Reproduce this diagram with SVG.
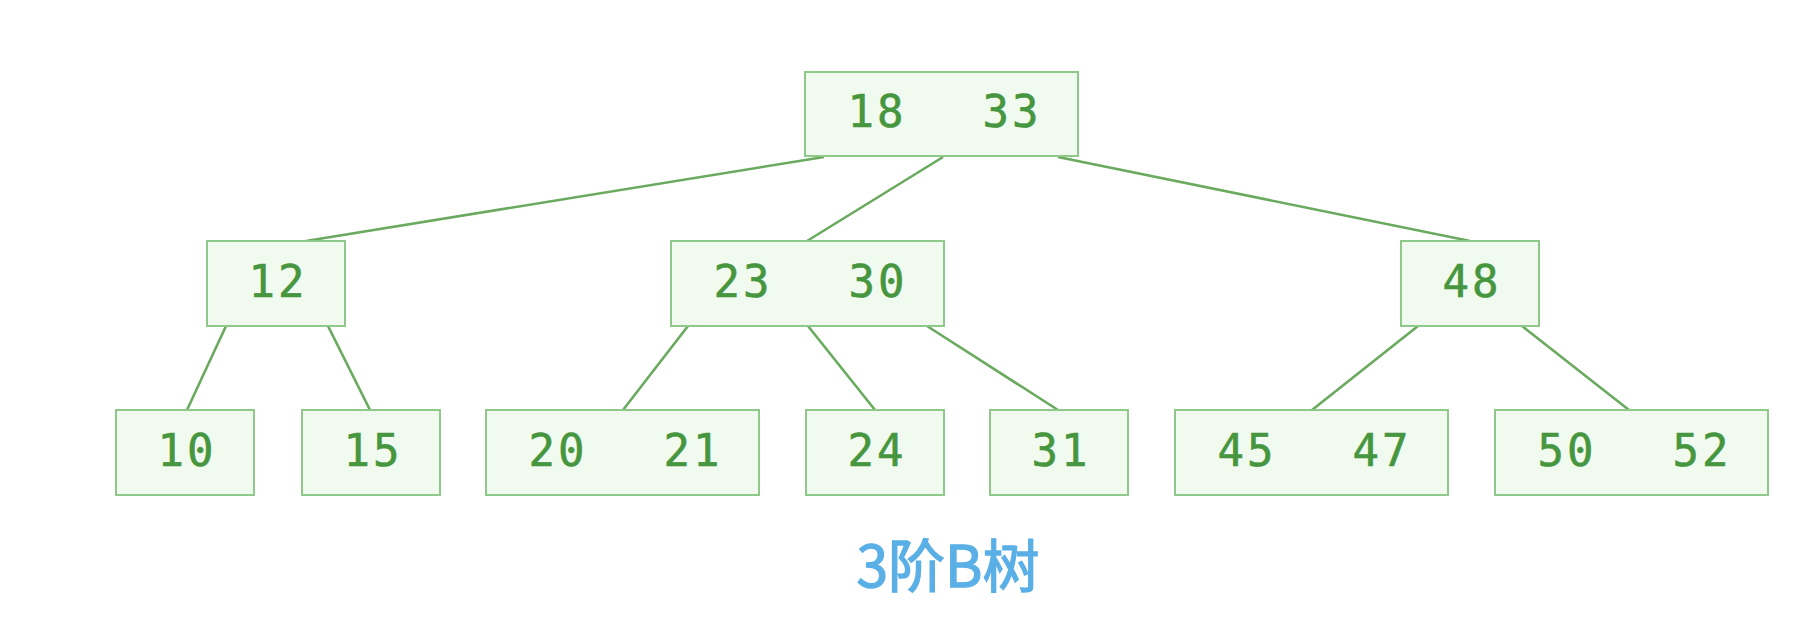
<svg xmlns="http://www.w3.org/2000/svg" width="1808" height="624" viewBox="0 0 1808 624">
<style>
.box{fill:#f1faef;stroke:#8ec98a;stroke-width:2}
.k{font-family:"DejaVu Sans Mono","Liberation Mono",monospace;font-size:44px;fill:#469640;stroke:#469640;stroke-width:0.6;text-anchor:middle;letter-spacing:3px}
.e{stroke:#6aaa5e;stroke-width:2.6;fill:none}
.t{font-family:"Noto Sans CJK SC","Noto Sans",sans-serif;font-size:57px;font-weight:normal;fill:#5ab0e6;stroke:#5ab0e6;stroke-width:1.3;text-anchor:middle}
</style>
<rect width="1808" height="624" fill="#ffffff"/>
<g id="connectors">
<line class="e" x1="824" y1="157" x2="306" y2="241"/>
<line class="e" x1="943" y1="157" x2="807" y2="241"/>
<line class="e" x1="1058" y1="157" x2="1470" y2="241"/>
<line class="e" x1="226" y1="326" x2="187" y2="410"/>
<line class="e" x1="328" y1="326" x2="370" y2="410"/>
<line class="e" x1="688" y1="326" x2="623" y2="410"/>
<line class="e" x1="808" y1="326" x2="875" y2="410"/>
<line class="e" x1="927" y1="326" x2="1058" y2="410"/>
<line class="e" x1="1418" y1="326" x2="1312" y2="410"/>
<line class="e" x1="1522" y1="326" x2="1629" y2="410"/>
</g>
<g id="root"><rect class="box" x="805" y="72" width="273" height="84"/><text class="k" x="877" y="127">18</text><text class="k" x="1012" y="127">33</text></g>
<g id="n12"><rect class="box" x="207" y="241" width="138" height="85"/><text class="k" x="278" y="297">12</text></g>
<g id="n23_30"><rect class="box" x="671" y="241" width="273" height="85"/><text class="k" x="743" y="297">23</text><text class="k" x="878" y="297">30</text></g>
<g id="n48"><rect class="box" x="1401" y="241" width="138" height="85"/><text class="k" x="1472" y="297">48</text></g>
<g id="n10"><rect class="box" x="116" y="410" width="138" height="85"/><text class="k" x="187" y="466">10</text></g>
<g id="n15"><rect class="box" x="302" y="410" width="138" height="85"/><text class="k" x="373" y="466">15</text></g>
<g id="n20_21"><rect class="box" x="486" y="410" width="273" height="85"/><text class="k" x="558" y="466">20</text><text class="k" x="693" y="466">21</text></g>
<g id="n24"><rect class="box" x="806" y="410" width="138" height="85"/><text class="k" x="877" y="466">24</text></g>
<g id="n31"><rect class="box" x="990" y="410" width="138" height="85"/><text class="k" x="1061" y="466">31</text></g>
<g id="n45_47"><rect class="box" x="1175" y="410" width="273" height="85"/><text class="k" x="1247" y="466">45</text><text class="k" x="1382" y="466">47</text></g>
<g id="n50_52"><rect class="box" x="1495" y="410" width="273" height="85"/><text class="k" x="1567" y="466">50</text><text class="k" x="1702" y="466">52</text></g>
<text class="t" x="948" y="587">3阶B树</text>
</svg>
